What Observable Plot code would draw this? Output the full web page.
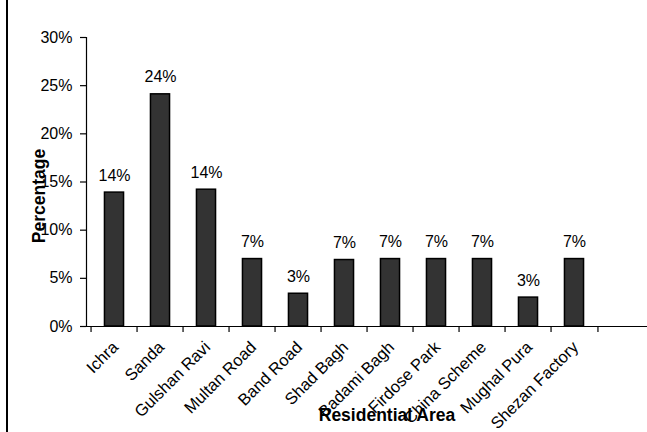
<!DOCTYPE html>
<html>
<head>
<meta charset="utf-8">
<script src="https://cdn.jsdelivr.net/npm/d3@7"></script>
<script src="https://cdn.jsdelivr.net/npm/@observablehq/plot@0.6"></script>
<style>
  html, body { margin: 0; padding: 0; background: #fff; }
  body { width: 647px; height: 432px; position: relative; overflow: hidden; }
  body::before {
    content: ""; position: absolute; left: 6px; top: 0; width: 1.5px; height: 432px; background: #000;
  }
  svg { display: block; }
</style>
</head>
<body>
<script>
// Share of respondents by residential area
const areas = [
  "Ichra", "Sanda", "Gulshan Ravi", "Multan Road", "Band Road", "Shad Bagh",
  "Badami Bagh", "Firdose Park", "China Scheme", "Mughal Pura", "Shezan Factory"
];
const percentages = [13.9, 24.1, 14.2, 7.0, 3.4, 6.9, 7.0, 7.0, 7.0, 3.0, 7.0];
const yTicks = [0, 5, 10, 15, 20, 25, 30];
const yTitle = "Percentage";
const xTitle = "Residential Area";

const rows = areas.map((area, i) => ({area, pct: percentages[i]}));

const W = 647, H = 432;
const left = 86, plotRight = 602;
const step = (plotRight - left) / areas.length;
const barInset = (step - 20) / 2;
const font = "'Liberation Sans', Arial, sans-serif";

const chart = Plot.plot({
  width: W,
  height: H,
  marginLeft: left,
  marginRight: 0,
  marginTop: 37,
  marginBottom: 106,
  style: {fontFamily: font, fontSize: "16px", color: "#000", background: "transparent"},
  x: {domain: areas, range: [left, plotRight], padding: 0, axis: null},
  y: {domain: [0, 30]},
  marks: [
    Plot.axisY({ticks: yTicks, tickFormat: d => d + "%", tickSize: 6, tickPadding: 8,
                fontSize: 16, label: null, stroke: "#000", strokeWidth: 1.2}),
    Plot.frame({anchor: "left", stroke: "#000", strokeWidth: 1.2}),
    // category boundary ticks below the baseline
    Plot.ruleX(areas, {x: d => d, y1: 0, y2: 0, insetBottom: -6, dx: -step / 2, stroke: "#000", strokeWidth: 1.2}),
    Plot.ruleX(areas.slice(-1), {x: d => d, y1: 0, y2: 0, insetBottom: -6, dx: step / 2, stroke: "#000", strokeWidth: 1.2}),
    Plot.barY(rows, {x: "area", y: "pct", fill: "#333333", stroke: "#000", strokeWidth: 1.5,
                     insetLeft: barInset, insetRight: barInset}),
    Plot.ruleY([0], {stroke: "#000", strokeWidth: 1.2}),
    Plot.text(rows, {x: "area", y: "pct", text: d => Math.round(d.pct) + "%", dy: -17,
                     fontSize: 16, fill: "#000"}),
    Plot.text(areas, {x: d => d, frameAnchor: "bottom", text: d => d, rotate: -45,
                      textAnchor: "end", lineAnchor: "middle", dy: 18, dx: 1, fontSize: 16.5, fill: "#000"}),
    Plot.text([yTitle], {frameAnchor: "left", text: d => d, rotate: -90, dx: -47, dy: 14,
                         textAnchor: "middle", lineAnchor: "middle",
                         fontSize: 17.5, fontWeight: "bold", fill: "#000"}),
    Plot.text([xTitle], {frameAnchor: "bottom", text: d => d, dx: 20, dy: 89,
                         textAnchor: "middle", lineAnchor: "middle",
                         fontSize: 17.5, fontWeight: "bold", fill: "#000"})
  ]
});
document.body.appendChild(chart);
</script>
</body>
</html>
